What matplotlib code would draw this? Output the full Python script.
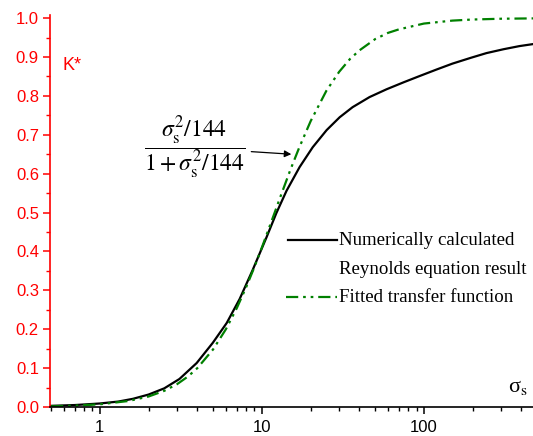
import matplotlib
matplotlib.use("Agg")
import matplotlib.pyplot as plt
from matplotlib.ticker import LogLocator, MultipleLocator, FixedLocator, FixedFormatter, NullFormatter
from matplotlib.lines import Line2D

# ---- data ----
sigma_num = [0.5, 0.7, 1.0, 1.3, 1.6, 2.0, 2.5, 3.1, 3.96, 4.98, 6.07, 7.3, 8.77, 10.7, 12.3,
             14.2, 17.1, 20.6, 25.1, 30.2, 36.3, 46.2, 58.8, 75, 94, 120, 150, 195, 243, 310,
             388, 468]
k_num = [0.003, 0.005, 0.009, 0.014, 0.021, 0.032, 0.048, 0.072, 0.113, 0.165, 0.216, 0.278,
         0.352, 0.437, 0.499, 0.556, 0.617, 0.668, 0.712, 0.745, 0.771, 0.797, 0.817, 0.835,
         0.851, 0.868, 0.883, 0.898, 0.910, 0.920, 0.928, 0.933]

sigma_fit = [0.5, 0.7, 1.0, 1.5, 2.0, 2.5, 3.0, 3.5, 4.0, 5.0, 6.0, 7.0, 8.0, 9.0, 10.0, 11.0,
             12.0, 13.0, 15.0, 17.0, 20.0, 25.0, 30.0, 35.0, 40.0, 50.0, 60.0, 70.0, 100.0,
             150.0, 200.0, 300.0, 471.0]
k_fit = [0.0017, 0.0034, 0.0069, 0.0154, 0.027, 0.0416, 0.0588, 0.0784, 0.100, 0.148, 0.200,
         0.254, 0.308, 0.360, 0.410, 0.457, 0.500, 0.540, 0.610, 0.667, 0.735, 0.813, 0.862,
         0.895, 0.917, 0.946, 0.962, 0.971, 0.986, 0.9936, 0.9964, 0.9984, 0.9993]

y_ticks = [0.0, 0.1, 0.2, 0.3, 0.4, 0.5, 0.6, 0.7, 0.8, 0.9, 1.0]
y_ticklabels = ["0.0", "0.1", "0.2", "0.3", "0.4", "0.5", "0.6", "0.7", "0.8", "0.9", "1.0"]
x_ticks = [1, 10, 100]
x_ticklabels = ["1", "10", "100"]

label_num_1 = "Numerically calculated"
label_num_2 = "Reynolds equation result"
label_fit = "Fitted transfer function"

plt.rcParams['mathtext.fontset'] = 'stix'
plt.rcParams['font.family'] = ['Liberation Sans', 'DejaVu Sans']

W, H = 533, 436
fig = plt.figure(figsize=(W / 100, H / 100), dpi=100)
ax_left, ax_bottom_px, ax_top_px = 50, 407, 15
ax = fig.add_axes([ax_left / W, 1 - ax_bottom_px / H, (W - ax_left) / W, (ax_bottom_px - ax_top_px) / H])

red = '#ff0000'
green = '#008000'
dashdotdot = (0, (5.5, 2.2, 1.2, 2.2, 1.2, 2.2))

ax.plot(sigma_num, k_num, color='black', lw=1.6, solid_joinstyle='round')
ax.plot(sigma_fit, k_fit, color=green, lw=1.6, linestyle=dashdotdot)

ax.set_xscale('log')
ax.set_xlim(0.493, 471)
ax.set_ylim(0, 1.008)

for s in ['top', 'right']:
    ax.spines[s].set_visible(False)
ax.spines['left'].set_color(red)
ax.spines['left'].set_linewidth(1.2)
ax.spines['bottom'].set_linewidth(1.2)

ax.xaxis.set_major_locator(FixedLocator(x_ticks))
ax.xaxis.set_major_formatter(FixedFormatter(x_ticklabels))
ax.xaxis.set_minor_locator(LogLocator(base=10, subs=[2, 3, 4, 5, 6, 7, 8, 9], numticks=20))
ax.xaxis.set_minor_formatter(NullFormatter())

ax.yaxis.set_major_locator(FixedLocator(y_ticks))
ax.yaxis.set_major_formatter(FixedFormatter(y_ticklabels))
ax.yaxis.set_minor_locator(MultipleLocator(0.05))

ax.tick_params(axis='x', which='major', direction='out', length=5, width=1.1, labelsize=12, pad=4, colors='black')
ax.tick_params(axis='x', which='minor', direction='out', length=3, width=1.0, colors='black')
ax.tick_params(axis='y', which='major', direction='out', length=5, width=1.1, labelsize=12, pad=3, colors=red)
ax.tick_params(axis='y', which='minor', direction='out', length=3, width=1.0, colors=red)

for lab in ax.get_xticklabels() + ax.get_yticklabels():
    lab.set_fontfamily('Liberation Sans')

def fx(px):
    return (px - ax_left) / (W - ax_left)

def fy(py):
    return (ax_bottom_px - py) / (ax_bottom_px - ax_top_px)

# axis labels inside the plot
ax.text(fx(72), fy(65), 'K*', transform=ax.transAxes, color=red, fontsize=13,
        ha='center', va='center', family='Liberation Sans')
ax.text(fx(518), fy(387), r'σ$_{\mathrm{s}}$', transform=ax.transAxes, fontsize=16,
        ha='center', va='center', family='Liberation Serif')

# formula annotation
ax.annotate(r'$\dfrac{\sigma_{\mathrm{s}}^2/144}{1+\sigma_{\mathrm{s}}^2/144}$',
            xy=(15.2, 0.65), xycoords='data',
            xytext=(fx(195), fy(148)), textcoords='axes fraction',
            ha='center', va='center', fontsize=17,
            arrowprops=dict(arrowstyle='-|>', color='black', lw=0.9, mutation_scale=10,
                            shrinkA=2, shrinkB=0))

# manual legend
ax.add_line(Line2D([fx(288), fx(337)], [fy(240), fy(240)], transform=ax.transAxes,
                   color='black', lw=1.6))
ax.add_line(Line2D([fx(286), fx(337)], [fy(297), fy(297)], transform=ax.transAxes,
                   color=green, lw=1.6, linestyle=dashdotdot))
for py, txt in [(240, label_num_1), (269, label_num_2), (297, label_fit)]:
    ax.text(fx(339), fy(py), txt, transform=ax.transAxes, ha='left', va='center',
            fontsize=13.6, family='Liberation Serif')

fig.savefig('out.png', dpi=100)
